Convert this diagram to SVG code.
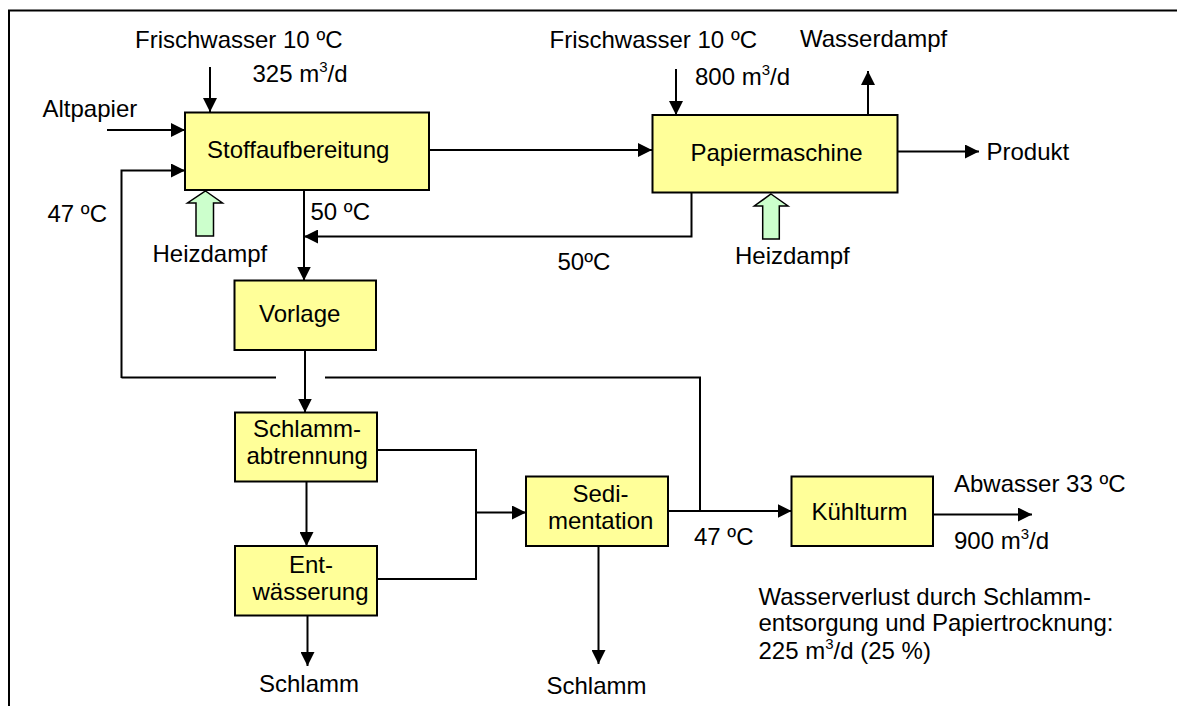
<svg xmlns="http://www.w3.org/2000/svg" width="1177" height="706" viewBox="0 0 1177 706">
<defs>
<marker id="ah" viewBox="0 0 14 14" markerWidth="14" markerHeight="14" refX="14" refY="7" orient="auto" markerUnits="userSpaceOnUse">
<path d="M0,0 L14,7 L0,14 Z" fill="#000"/>
</marker>
</defs>
<style>
text{font-family:"Liberation Sans",Arial,sans-serif;font-size:24px;fill:#000}
.sup{font-size:15px}
.box{fill:#FFFF99;stroke:#000;stroke-width:2}
.ln{fill:none;stroke:#000;stroke-width:2}
.ar{fill:none;stroke:#000;stroke-width:2;marker-end:url(#ah)}
.steam{fill:#CCFFCC;stroke:#000;stroke-width:1.5}
</style>
<rect width="1177" height="706" fill="#fff"/>
<path d="M9,706 V10.5 H1177" fill="none" stroke="#000" stroke-width="2"/>

<g id="connectors">
<line class="ar" x1="210" y1="67" x2="210" y2="112"/>
<line class="ar" x1="107" y1="130" x2="185" y2="130"/>
<polyline class="ar" points="121.5,378 121.5,170.5 185,170.5"/>
<line class="ar" x1="429" y1="150" x2="652" y2="150"/>
<line class="ar" x1="676" y1="69" x2="676" y2="115"/>
<line class="ar" x1="868" y1="115" x2="868" y2="71"/>
<line class="ar" x1="898" y1="151.5" x2="979" y2="151.5"/>
<polyline class="ar" points="691.5,192.5 691.5,236.5 304,236.5"/>
<line class="ar" x1="304" y1="190" x2="304" y2="280.5"/>
<line class="ln" x1="121.5" y1="377.5" x2="276" y2="377.5"/>
<polyline class="ln" points="325,377.5 700,377.5 700,511"/>
<line class="ar" x1="305" y1="350" x2="305" y2="412.5"/>
<line class="ar" x1="306.5" y1="481.5" x2="306.5" y2="546"/>
<polyline class="ln" points="377,450 476,450 476,579 377,579"/>
<line class="ar" x1="476" y1="512.5" x2="526" y2="512.5"/>
<line class="ar" x1="307.5" y1="615.5" x2="307.5" y2="666"/>
<line class="ar" x1="668" y1="511" x2="791.5" y2="511"/>
<line class="ar" x1="598.5" y1="546" x2="598.5" y2="664"/>
<line class="ar" x1="933" y1="514.5" x2="1032" y2="514.5"/>
<path class="steam" d="M205.5,191 L222.5,203 L213.5,203 L213.5,236 L196,236 L196,203 L187.5,203 Z"/>
<path class="steam" d="M771,194 L788,206 L779.3,206 L779.3,239 L762.7,239 L762.7,206 L754.3,206 Z"/>
</g>

<g id="stoffaufbereitung">
<rect class="box" x="185" y="112.5" width="244" height="77.5"/>
<text x="207" y="157.5">Stoffaufbereitung</text>
</g>
<g id="papiermaschine">
<rect class="box" x="652.5" y="115" width="245" height="77.5"/>
<text x="690.5" y="161">Papiermaschine</text>
</g>
<g id="vorlage">
<rect class="box" x="234.5" y="280.5" width="141.5" height="69.5"/>
<text x="259" y="321.5">Vorlage</text>
</g>
<g id="schlammabtrennung">
<rect class="box" x="235" y="412.5" width="142" height="69"/>
<text x="253" y="436.5">Schlamm-</text>
<text x="246.5" y="463.5">abtrennung</text>
</g>
<g id="entwaesserung">
<rect class="box" x="235" y="546" width="142" height="69.5"/>
<text x="289" y="573">Ent-</text>
<text x="252.5" y="600">wässerung</text>
</g>
<g id="sedimentation">
<rect class="box" x="526" y="476.5" width="142" height="69.5"/>
<text x="572.5" y="501.5">Sedi-</text>
<text x="548" y="528.5">mentation</text>
</g>
<g id="kuehlturm">
<rect class="box" x="791.5" y="476.5" width="141.5" height="69.5"/>
<text x="811.5" y="520">Kühlturm</text>
</g>

<g id="labels">
<text x="135" y="48">Frischwasser 10 ºC</text>
<text x="252.5" y="81.5">325 m<tspan class="sup" dy="-10">3</tspan><tspan dy="10">/d</tspan></text>
<text x="42.5" y="116.5">Altpapier</text>
<text x="47.5" y="221.5">47 ºC</text>
<text x="310.5" y="220">50 ºC</text>
<text x="152.5" y="261.5">Heizdampf</text>
<text x="549.5" y="48">Frischwasser 10 ºC</text>
<text x="695" y="85">800 m<tspan class="sup" dy="-10">3</tspan><tspan dy="10">/d</tspan></text>
<text x="800" y="46.5">Wasserdampf</text>
<text x="986.5" y="159.5">Produkt</text>
<text x="557.5" y="269.5">50ºC</text>
<text x="735" y="263.5">Heizdampf</text>
<text x="259" y="691.5">Schlamm</text>
<text x="546.5" y="693.5">Schlamm</text>
<text x="694" y="545">47 ºC</text>
<text x="954" y="491.5">Abwasser 33 ºC</text>
<text x="954" y="548.5">900 m<tspan class="sup" dy="-10">3</tspan><tspan dy="10">/d</tspan></text>
<text x="758.5" y="604.5">Wasserverlust durch Schlamm-</text>
<text x="758.5" y="631">entsorgung und Papiertrocknung:</text>
<text x="758.5" y="658.5">225 m<tspan class="sup" dy="-10">3</tspan><tspan dy="10">/d (25 %)</tspan></text>
</g>
</svg>
